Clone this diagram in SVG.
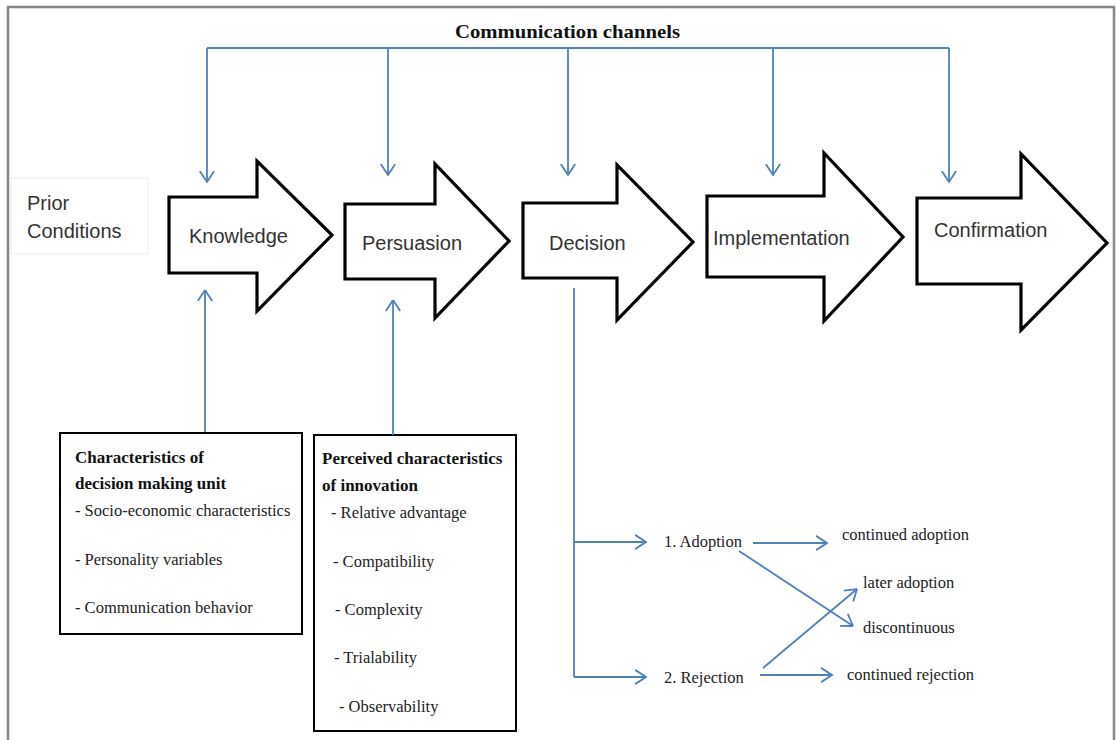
<svg xmlns="http://www.w3.org/2000/svg" width="1116" height="740" viewBox="0 0 1116 740">
  <defs>
    <marker id="ah" markerUnits="userSpaceOnUse" viewBox="0 0 12 16" refX="11.5" refY="8" markerWidth="12" markerHeight="16" orient="auto">
      <path d="M0.5,0.8 L11.5,8 L0.5,15.2" fill="none" stroke="#4f81bd" stroke-width="1.8"/>
    </marker>
    <style>
      .stage { fill: #ffffff; stroke: #000000; stroke-width: 3.2; stroke-linejoin: miter; }
      .stxt { font-family: "Liberation Sans", Arial, sans-serif; font-size: 20px; fill: #333333; }
      .conn { fill: none; stroke: #4f81bd; stroke-width: 1.8; }
      .arr { marker-end: url(#ah); }
      .box { fill: #ffffff; stroke: #000000; stroke-width: 2; }
      .bh { font-family: "Liberation Serif", "Times New Roman", serif; font-size: 17px; font-weight: bold; fill: #111111; }
      .bt { font-family: "Liberation Serif", "Times New Roman", serif; font-size: 16.5px; fill: #222222; }
      .lbl { font-family: "Liberation Serif", "Times New Roman", serif; font-size: 16.5px; fill: #222222; }
    </style>
  </defs>

  <rect x="8" y="7" width="1106" height="760" fill="#ffffff" stroke="#858585" stroke-width="2.5"/>

  <g id="title">
    <text x="455" y="38" textLength="225" lengthAdjust="spacingAndGlyphs" font-family="'Liberation Serif', 'Times New Roman', serif" font-size="19" font-weight="bold" fill="#111111">Communication channels</text>
  </g>

  <g id="prior-conditions">
    <rect x="11" y="178" width="137" height="76" fill="#ffffff" stroke="#ececec" stroke-width="1"/>
    <text class="stxt" x="27" y="210">Prior</text>
    <text class="stxt" x="27" y="238">Conditions</text>
  </g>

  <g id="knowledge">
    <path class="stage" d="M169,197 H257 V161 L332,235 L257,311 V273 H169 Z"/>
    <text class="stxt" x="189" y="243">Knowledge</text>
  </g>

  <g id="persuasion">
    <path class="stage" d="M345,204 H435 V164 L509,241 L435,318 V279 H345 Z"/>
    <text class="stxt" x="362" y="250">Persuasion</text>
  </g>

  <g id="decision">
    <path class="stage" d="M523,203 H617 V165 L693,242 L617,320 V278 H523 Z"/>
    <text class="stxt" x="549" y="250">Decision</text>
  </g>

  <g id="implementation">
    <path class="stage" d="M707,196 H824 V153 L903,237 L824,321 V277 H707 Z"/>
    <text class="stxt" x="713" y="245">Implementation</text>
  </g>

  <g id="confirmation">
    <path class="stage" d="M917,198 H1021 V154 L1107,243 L1021,330 V284 H917 Z"/>
    <text class="stxt" x="934" y="237">Confirmation</text>
  </g>

  <g id="decision-unit">
    <rect class="box" x="60" y="433" width="242" height="201"/>
    <text class="bh" x="75" y="463">Characteristics of</text>
    <text class="bh" x="75" y="489">decision making unit</text>
    <text class="bt" x="75" y="516">- Socio-economic characteristics</text>
    <text class="bt" x="75" y="565">- Personality  variables</text>
    <text class="bt" x="75" y="613">- Communication  behavior</text>
  </g>

  <g id="innovation">
    <rect class="box" x="314" y="435" width="202" height="296"/>
    <text class="bh" x="322" y="464">Perceived characteristics</text>
    <text class="bh" x="322" y="491">of innovation</text>
    <text class="bt" x="331" y="518">- Relative  advantage</text>
    <text class="bt" x="333" y="567">- Compatibility</text>
    <text class="bt" x="335" y="615">- Complexity</text>
    <text class="bt" x="334" y="663">- Trialability</text>
    <text class="bt" x="339" y="712">- Observability</text>
  </g>

  <g id="adoption"><text class="lbl" x="664" y="547">1. Adoption</text></g>
  <g id="rejection"><text class="lbl" x="664" y="683">2. Rejection</text></g>
  <g id="continued-adoption"><text class="lbl" x="842" y="540">continued adoption</text></g>
  <g id="later-adoption"><text class="lbl" x="863" y="588">later adoption</text></g>
  <g id="discontinuous"><text class="lbl" x="863" y="633">discontinuous</text></g>
  <g id="continued-rejection"><text class="lbl" x="847" y="680">continued rejection</text></g>

  <g id="connectors">
    <path class="conn" d="M207,48 H949"/>
    <path class="conn arr" d="M207,48 V182"/>
    <path class="conn arr" d="M388,48 V175"/>
    <path class="conn arr" d="M568,48 V175"/>
    <path class="conn arr" d="M773,48 V175"/>
    <path class="conn arr" d="M949,48 V182"/>
    <path class="conn arr" d="M205,432 V290"/>
    <path class="conn arr" d="M393,435 V300"/>
    <path class="conn" d="M574,288 V677"/>
    <path class="conn arr" d="M574,542 H646"/>
    <path class="conn arr" d="M574,677 H646"/>
    <path class="conn arr" d="M753,543 H827"/>
    <path class="conn arr" d="M739,551 L853,626"/>
    <path class="conn arr" d="M763,668 L857,589"/>
    <path class="conn arr" d="M760,675 H832"/>
  </g>
</svg>
